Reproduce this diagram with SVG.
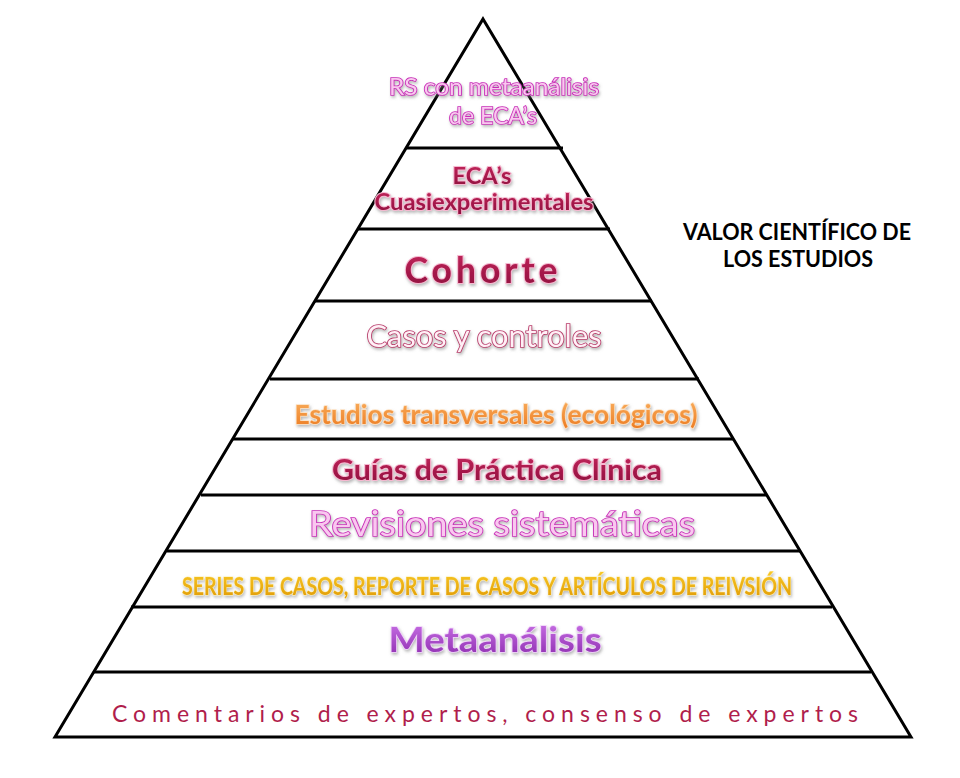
<svg xmlns="http://www.w3.org/2000/svg" width="960" height="778" viewBox="0 0 960 778">
<defs>
<linearGradient id="gCrimson" x1="0" y1="0" x2="0" y2="1">
<stop offset="0" stop-color="#c8285e"/><stop offset="1" stop-color="#8c0e3c"/>
</linearGradient>
<linearGradient id="gOrange" x1="0" y1="0" x2="0" y2="1">
<stop offset="0" stop-color="#f9b060"/><stop offset="1" stop-color="#ec7a20"/>
</linearGradient>
<linearGradient id="gGold" x1="0" y1="0" x2="0" y2="1">
<stop offset="0" stop-color="#f8c828"/><stop offset="1" stop-color="#e09a00"/>
</linearGradient>
<linearGradient id="gPurple" x1="0" y1="0" x2="0" y2="1">
<stop offset="0" stop-color="#cf78ec"/><stop offset="1" stop-color="#8c2cae"/>
</linearGradient>
<filter id="shadow" x="-10%" y="-30%" width="120%" height="170%">
<feDropShadow dx="1" dy="2" stdDeviation="1.5" flood-color="#808080" flood-opacity="0.55"/>
</filter>
</defs>
<style>
text{font-family:Lato,"Open Sans","DejaVu Sans",sans-serif;text-anchor:middle}
.b{font-weight:bold}
.pinkOut{fill:#f9c8ef;stroke:#c82cb8;stroke-width:1.7;paint-order:stroke}
.crim{fill:url(#gCrimson);stroke:#f6b8d0;stroke-width:2;paint-order:stroke}
.roseOut{fill:#fff0f6;stroke:#b83a6a;stroke-width:1.7;paint-order:stroke}
.orange{fill:url(#gOrange);stroke:#fde0c0;stroke-width:1.5;paint-order:stroke}
.gold{fill:url(#gGold);stroke:#fff0b0;stroke-width:1;paint-order:stroke}
.purple{fill:url(#gPurple);stroke:#f0d0fa;stroke-width:1.5;paint-order:stroke}
.plain{fill:#b01e4c}
.black{fill:#000}
.sh{filter:url(#shadow)}
.edge{stroke:#000;stroke-width:3;fill:none}
</style>
<rect width="960" height="778" fill="#fff"/>
<g id="pyramid">
<polygon class="edge" points="483,19 911,737 55,737" fill="#fff" stroke-linejoin="miter"/>
</g>
<g id="connectors">
<line class="edge" x1="407" y1="148" x2="563" y2="148"/>
<line class="edge" x1="358" y1="229" x2="610" y2="229"/>
<line class="edge" x1="315" y1="301" x2="652" y2="301"/>
<line class="edge" x1="270" y1="379" x2="699" y2="379"/>
<line class="edge" x1="233" y1="439" x2="733" y2="439"/>
<line class="edge" x1="201" y1="495" x2="767" y2="495"/>
<line class="edge" x1="167" y1="551" x2="800" y2="551"/>
<line class="edge" x1="131" y1="607" x2="832" y2="607"/>
<line class="edge" x1="94" y1="672" x2="871" y2="672"/>
</g>
<g id="tier1">
<text class="pinkOut sh" x="494" y="95" font-size="23" textLength="210" lengthAdjust="spacingAndGlyphs">RS con metaanálisis</text>
<text class="pinkOut sh" x="493" y="124" font-size="23" textLength="88" lengthAdjust="spacingAndGlyphs">de ECA’s</text>
</g>
<g id="tier2">
<text class="crim b sh" x="482" y="184" font-size="23" textLength="59" lengthAdjust="spacingAndGlyphs">ECA’s</text>
<text class="crim b sh" x="484" y="210" font-size="23" textLength="219" lengthAdjust="spacingAndGlyphs">Cuasiexperimentales</text>
</g>
<g id="tier3">
<text class="crim b sh" x="483" y="283" font-size="36" letter-spacing="4" textLength="157" lengthAdjust="spacingAndGlyphs">Cohorte</text>
</g>
<g id="tier4">
<text class="roseOut sh" x="484" y="347" font-size="30" textLength="235" lengthAdjust="spacingAndGlyphs">Casos y controles</text>
</g>
<g id="tier5">
<text class="orange b sh" x="496" y="424" font-size="26" textLength="403" lengthAdjust="spacingAndGlyphs">Estudios transversales (ecológicos)</text>
</g>
<g id="tier6">
<text class="crim b sh" x="497" y="480" font-size="29" textLength="330" lengthAdjust="spacingAndGlyphs">Guías de Práctica Clínica</text>
</g>
<g id="tier7">
<text class="pinkOut sh" x="502" y="536" font-size="35" textLength="386" lengthAdjust="spacingAndGlyphs">Revisiones sistemáticas</text>
</g>
<g id="tier8">
<text class="gold b sh" x="487" y="595" font-size="24" textLength="610" lengthAdjust="spacingAndGlyphs">SERIES DE CASOS, REPORTE DE CASOS Y ARTÍCULOS DE REIVSIÓN</text>
</g>
<g id="tier9">
<text class="purple b sh" x="495" y="652" font-size="35" textLength="213" lengthAdjust="spacingAndGlyphs">Metaanálisis</text>
</g>
<g id="tier10">
<text class="plain" x="485" y="722" font-size="23" textLength="746" lengthAdjust="spacing">Comentarios de expertos, consenso de expertos</text>
</g>
<g id="title">
<text class="black b" x="797" y="240" font-size="22" textLength="228" lengthAdjust="spacingAndGlyphs">VALOR CIENTÍFICO DE</text>
<text class="black b" x="798" y="267" font-size="22" textLength="150" lengthAdjust="spacingAndGlyphs">LOS ESTUDIOS</text>
</g>
</svg>
